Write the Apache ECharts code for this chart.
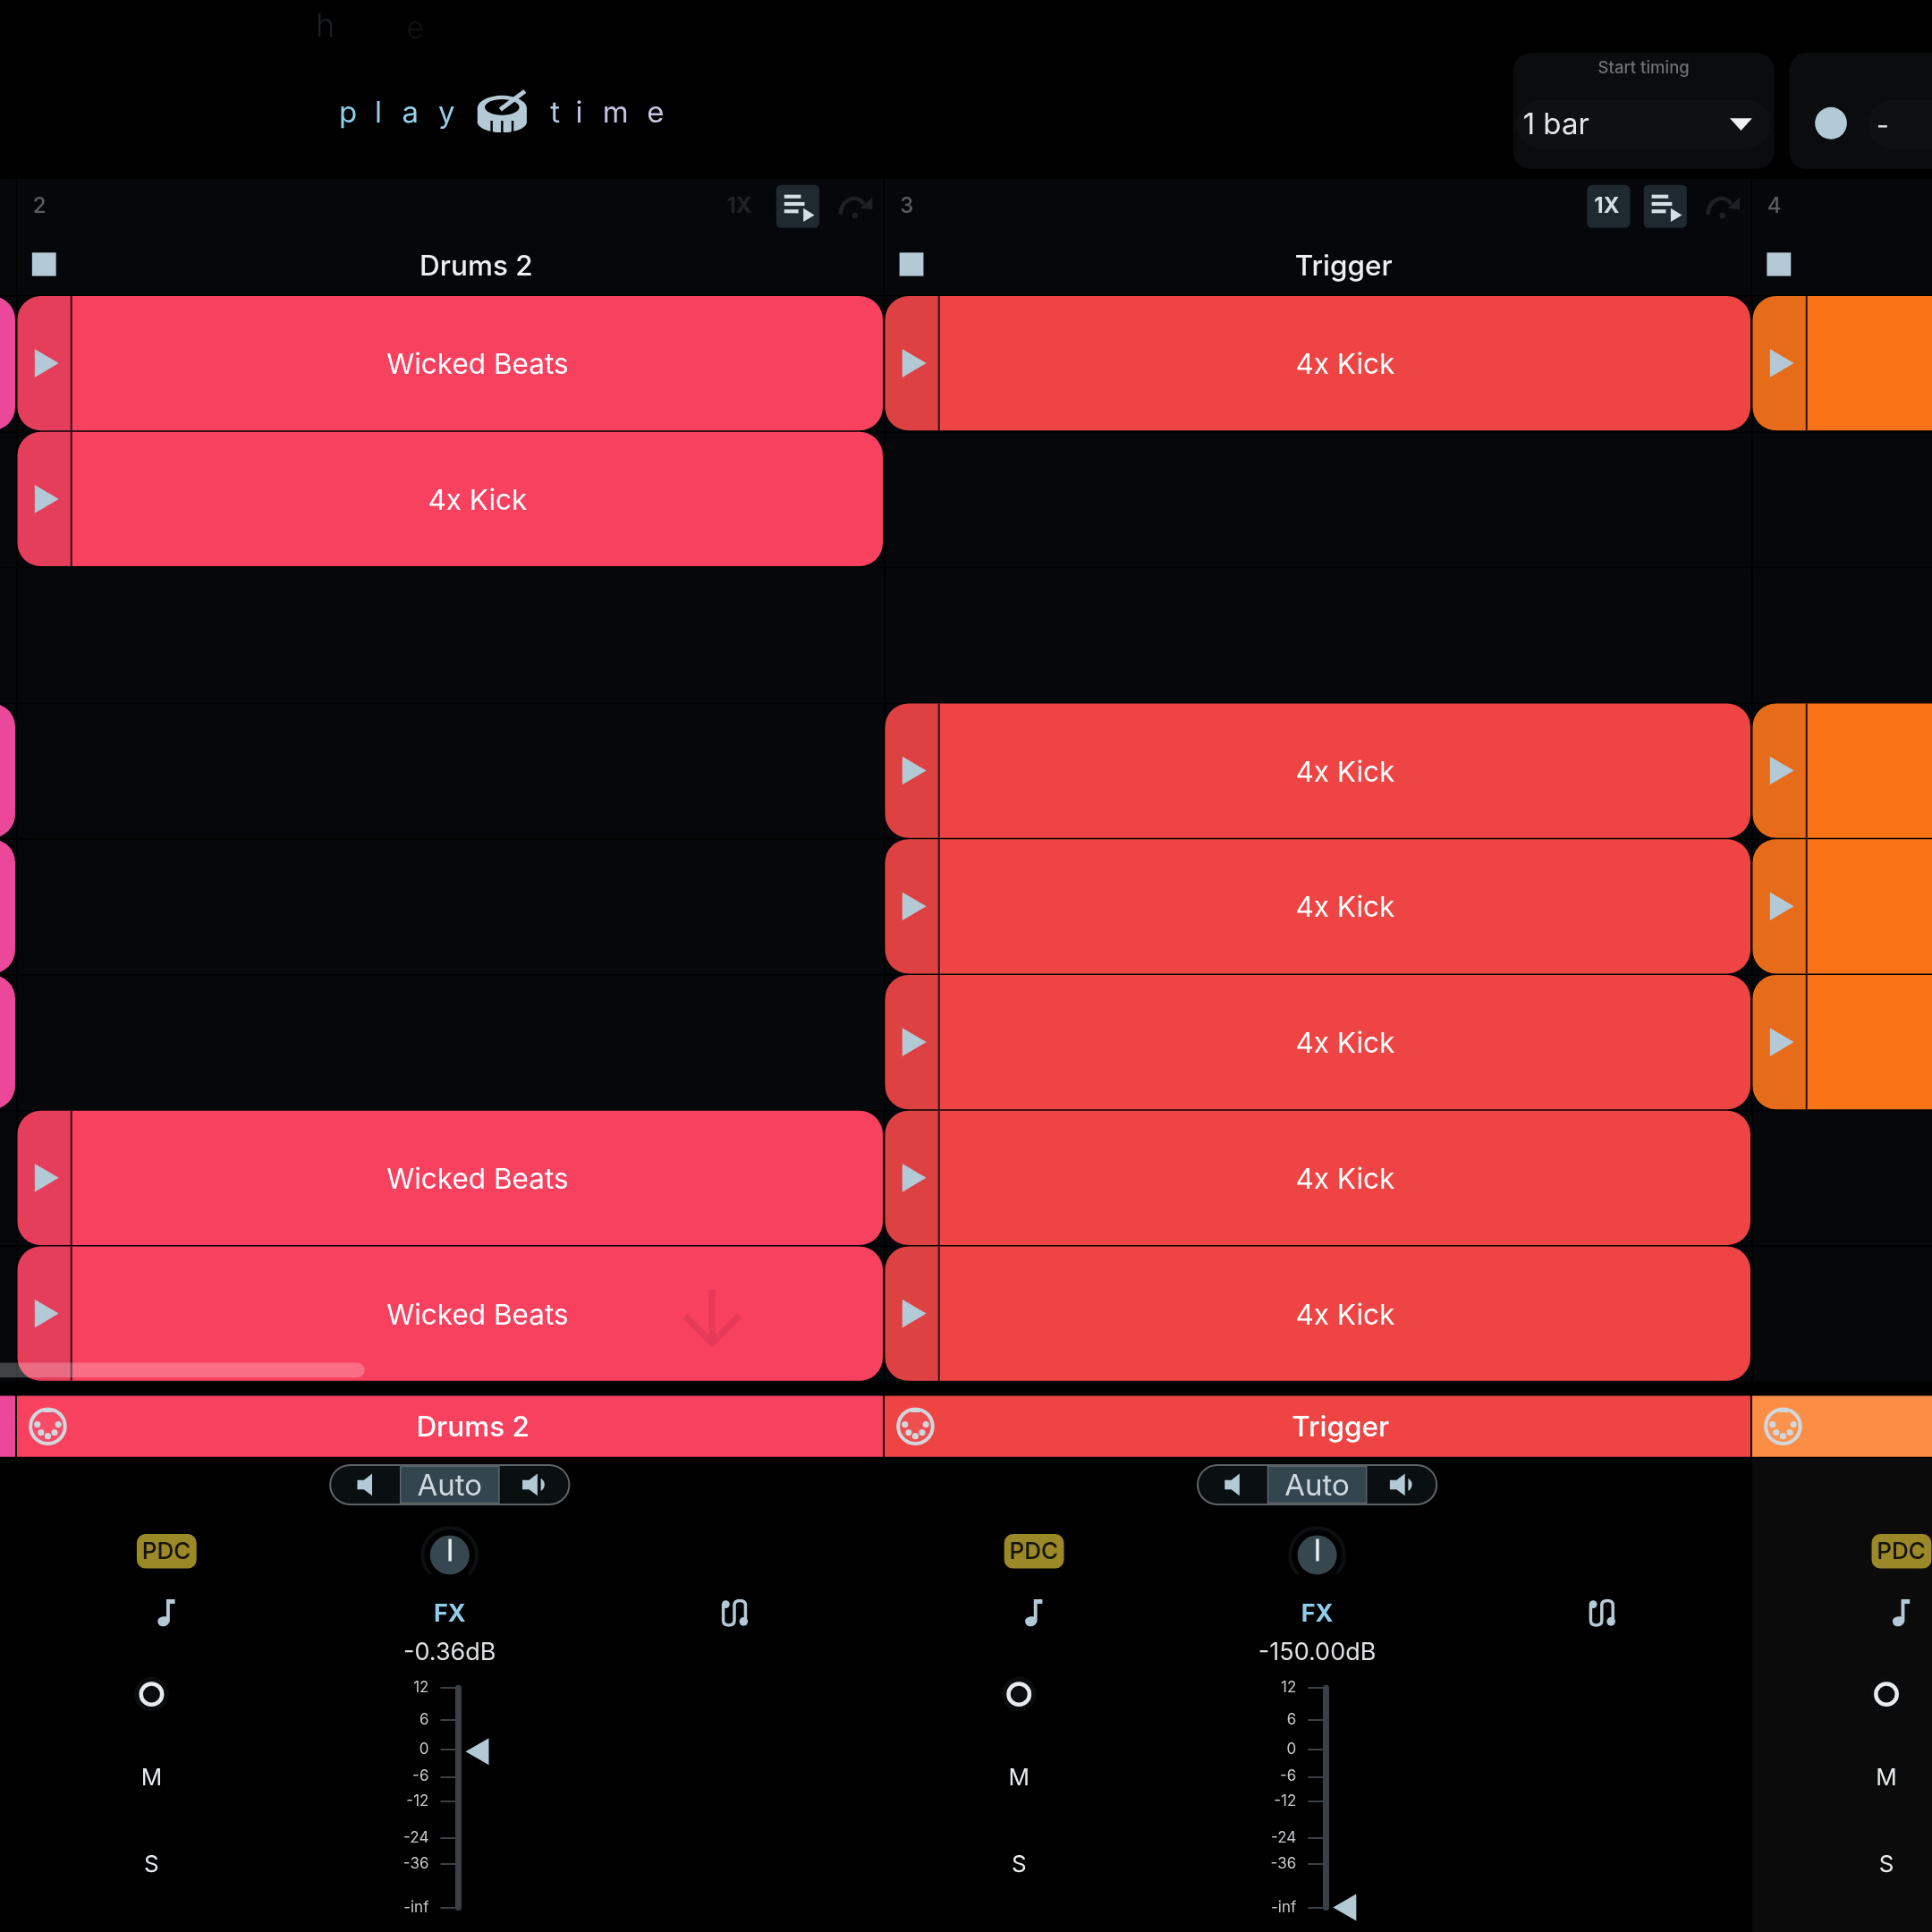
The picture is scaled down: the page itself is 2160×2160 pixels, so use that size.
<!DOCTYPE html>
<html>
<head>
<meta charset="utf-8">
<title>Playtime</title>
<script src="https://cdn.jsdelivr.net/npm/echarts@6/dist/echarts.min.js"></script>
<style>
html, body { margin: 0; padding: 0; background: #000; }
#chart { width: 2160px; height: 2160px; }
</style>
</head>
<body>
<div id="chart"></div>
<script>
// clip matrix, one entry per clip
var clipTracks = [1, 1, 1, 1, 2, 2, 2, 2, 3, 3, 3, 3, 3, 3, 4, 4, 4, 4];
var clipRows = [0, 3, 4, 5, 0, 1, 6, 7, 0, 3, 4, 5, 6, 7, 0, 3, 4, 5];
var clipNames = ['', '', '', '',
    'Wicked Beats', '4x Kick', 'Wicked Beats', 'Wicked Beats',
    '4x Kick', '4x Kick', '4x Kick', '4x Kick', '4x Kick', '4x Kick',
    '', '', '', ''];

// tracks
var trackIds = [1, 2, 3, 4];
var trackNames = ['', 'Drums 2', 'Trigger', ''];
var trackColors = ['#ec4899', '#f8405f', '#ef4444', '#f97316'];
var stripColors = ['#ec4899', '#f8405f', '#ef4444', '#fb8d45'];
var rowIds = [0, 1, 2, 3, 4, 5, 6, 7];

// mixer
var volumeTexts = ['-0.36dB', '-150.00dB'];
var faderTickLabels = ['12', '6', '0', '-6', '-12', '-24', '-36', '-inf'];
var faderTickPos = [1, 0.854, 0.719, 0.596, 0.483, 0.315, 0.197, 0];
var faderValues = [0.71, 0];

var S = 2160 / 1568;
function d(v) { return v * S; }

var ICE = '#b3c9d6';
var FONT = 'Inter';
var back = [];
var icons = [];

function box(list, x0, y0, x1, y1, r, fill, stroke, lw, z) {
    list.push({
        type: 'rect',
        z: z || 0,
        shape: { x: d(x0), y: d(y0), width: d(x1 - x0), height: d(y1 - y0), r: r ? d(r) : 0 },
        style: { fill: fill, stroke: stroke || null, lineWidth: lw || 0 }
    });
}
function label(list, str, x, y, size, color, weight, align) {
    list.push({
        type: 'text',
        z: 5,
        x: d(x),
        y: d(y),
        style: {
            text: str,
            fill: color,
            font: (weight || 400) + ' ' + size + 'px ' + FONT,
            align: align || 'center',
            verticalAlign: 'middle'
        }
    });
}
function icon(path, x0, y0, x1, y1, style) {
    icons.push({
        type: 'path',
        shape: { pathData: path, layout: 'cover', x: d(x0), y: d(y0), width: d(x1 - x0), height: d(y1 - y0) },
        style: style
    });
}
function ring(list, cx, cy, r, fill, stroke, lw) {
    list.push({
        type: 'circle',
        z: 5,
        shape: { cx: d(cx), cy: d(cy), r: d(r) },
        style: { fill: fill, stroke: stroke || null, lineWidth: lw || 0 }
    });
}

// top bar
box(back, 0, 145, 1568, 240, 0, '#05070a');
[13, 717, 1421].forEach(function (x) {
    box(back, x, 145, x + 1, 240, 0, '#000', null, 0, 1);
});
label(back, 'h', 264, 22, 36, '#1c1f22', 300);
label(back, 'e', 337, 24, 34, '#101214', 300);

var logoLetters = ['p', 'l', 'a', 'y', 't', 'i', 'm', 'e'];
var logoX = [282.5, 307, 333, 362.5, 450.5, 470, 499.5, 532];
var logoColors = ['#8fd0ee', '#8fd0ee', '#96d0ec', '#96d0ec', '#b8c8e4', '#c2c4e4', '#c8c2e2', '#cbc2e0'];
logoLetters.forEach(function (ch, i) {
    label(back, ch, logoX[i], 92, 33, logoColors[i], 400);
});
// drum
back.push({
    type: 'ellipse', z: 5,
    shape: { cx: d(407.5), cy: d(88), rx: d(20), ry: d(10.500) },
    style: { fill: ICE }
});
box(back, 387.5, 88, 427.5, 100, 0, ICE, null, 0, 5);
back.push({
    type: 'ellipse', z: 5,
    shape: { cx: d(407.5), cy: d(99), rx: d(20), ry: d(8.5) },
    style: { fill: ICE }
});
back.push({
    type: 'ellipse', z: 6,
    shape: { cx: d(407.5), cy: d(87), rx: d(14), ry: d(6.500) },
    style: { fill: '#000' }
});
back.push({
    type: 'line', z: 7,
    shape: { x1: d(406), y1: d(89), x2: d(426), y2: d(74) },
    style: { stroke: ICE, lineWidth: 5 }
});
[399, 407.5, 416].forEach(function (x) {
    back.push({
        type: 'line', z: 7,
        shape: { x1: d(x), y1: d(98), x2: d(x), y2: d(108) },
        style: { stroke: '#000', lineWidth: 2.5 }
    });
});

// start timing panel
box(back, 1228, 43, 1440, 137, 14, '#0a0c0e');
label(back, 'Start timing', 1334, 55.5, 18.5, '#6c7175', 500);
box(back, 1231, 81, 1437, 121, 20, '#0e1012');
label(back, '1 bar', 1236, 102, 33, '#e4e6e8', 400, 'left');
icon('M0 0L10 0L5 8Z', 1404, 96, 1422, 106, { fill: '#eef0f2' });
box(back, 1452, 43, 1600, 137, 14, '#0a0c0e');
ring(back, 1486, 100, 13, ICE);
box(back, 1516, 81, 1600, 121, 20, '#0e1012');
label(back, '-', 1528, 103, 31, '#d8dadc');

// header + mixer per track, the track step is 704 in view units
var ctrlTracks = [0, 1, 2];
var notePath = 'M5 0L10 0L10 3L7 3L7 14C7 16 5 18 3 18C1 18 0 16 0 14.500C0 12.500 2 11 5 11.500Z';
var routePath = 'M2 3L2 14C2 16 3 17 4.500 17C6 17 7 16 7 14L7 4C7 2 8 1 9.500 1C11 1 12 2 12 4L12 15';
var redoPath = 'M1 14C2 4 12 2 16 8';
var redoHead = 'M20 2L20 11L11 10Z';
var quietPath = 'M0 4L4 4L9 0L9 14L4 10L0 10Z';
var loudPath = 'M0 4L4 4L9 0L9 14L4 10L0 10ZM11 3C14 5 14 9 11 11Z';

// track 4 mixer panel sits behind its controls
box(back, 1422, 1183, 1568, 1568, 0, '#0b0b0b', null, 0, -1);

ctrlTracks.forEach(function (k) {
    var o = k * 704;
    label(back, String(k + 2), 32 + o, 167.5, 24, '#5a5d60', 500);
    box(back, 26 + o, 205, 45.5 + o, 224, 0, ICE);
    if (trackNames[k + 1]) {
        label(back, trackNames[k + 1], 386.5 + o, 216.5, 31.5, '#eceeef', 500);
    }
    if (k < 2) {
        var oneOn = k === 1;
        if (oneOn) { box(back, 1288, 150, 1323, 185, 4, '#1f2a30'); }
        label(back, '1X', 600 + o, 167.5, 24, oneOn ? '#d5e0e6' : '#1f2327', 700);
        box(back, 630 + o, 150, 665 + o, 185, 4, '#1f2a30');
        box(back, 636.5 + o, 158, 650 + o, 161, 0, '#d5e0e6', null, 0, 1);
        box(back, 636.5 + o, 164, 653 + o, 167, 0, '#d5e0e6', null, 0, 1);
        box(back, 636.5 + o, 170, 648 + o, 173, 0, '#d5e0e6', null, 0, 1);
        icon('M0 0L6 6L0 12Z', 652 + o, 169, 661 + o, 180, { fill: '#d5e0e6' });
        icon(redoPath, 682 + o, 161, 701 + o, 174, { fill: 'none', stroke: '#1d2024', lineWidth: 4.500 });
        icon(redoHead, 698 + o, 160, 708 + o, 170, { fill: '#1d2024' });
        ring(back, 694 + o, 175, 2.500, '#1d2024');

        // volume mode switch
        box(back, 268 + o, 1189, 462 + o, 1221, 16, '#0a1012', '#5e6467', 2);
        box(back, 325 + o, 1190, 405 + o, 1220, 0, '#33464f', '#5e6467', 1.500, 1);
        label(back, 'Auto', 365 + o, 1206.5, 33, '#cfd8dd');
        icon(quietPath, 290 + o, 1196, 302 + o, 1214, { fill: ICE });
        icon(loudPath, 424 + o, 1196, 442 + o, 1214, { fill: ICE });

        // pan knob
        back.push({
            type: 'arc', z: 5,
            shape: { cx: d(365 + o), cy: d(1262), r: d(22), startAngle: Math.PI * 0.75, endAngle: Math.PI * 0.25 },
            style: { fill: null, stroke: '#0d0f11', lineWidth: 4 }
        });
        ring(back, 365 + o, 1262, 16, '#37474f');
        box(back, 364 + o, 1249, 366.5 + o, 1267, 0, '#e8edf0', null, 0, 6);

        label(back, 'FX', 365 + o, 1310, 27, '#8fcdea', 700);
        icon(routePath, 587 + o, 1299, 605 + o, 1319, { fill: 'none', stroke: ICE, lineWidth: 3.500 });
        ring(back, 589 + o, 1302, 3.200, ICE);
        ring(back, 603.5 + o, 1316, 3.500, ICE);
        label(back, volumeTexts[k], 365 + o, 1341.5, 27, '#dfe1e3', 400);
    }
    // PDC
    box(back, 111 + o, 1245, 159.5 + o, 1273, 7, '#9b8826');
    label(back, 'PDC', 135 + o, 1259.5, 26, '#15140c', 500);
    icon(notePath, 128 + o, 1298, 142 + o, 1320, { fill: ICE });
    ring(back, 123 + o, 1375, 14, '#0a0c0d');
    ring(back, 123 + o, 1375, 8.500, 'none', '#e8ecee', 4.500);
    label(back, 'M', 123 + o, 1443, 26, '#e8ecee');
    label(back, 'S', 123 + o, 1514, 26, '#e8ecee');
});

// midi plug on the track strip
function midiIcon(cx, cy) {
    var kids = [{
        type: 'circle',
        shape: { cx: cx, cy: cy, r: d(14) },
        style: { fill: 'rgba(255,255,255,0.06)', stroke: '#cfd8dd', lineWidth: 4 }
    }, {
        type: 'rect',
        shape: { x: cx - 5, y: cy - d(15), width: 10, height: 5 },
        style: { fill: '#cfd8dd' }
    }];
    [[-8.500, -1.500], [8.500, -1.500], [-5.500, 5], [5.500, 5], [0, 8]].forEach(function (p) {
        kids.push({
            type: 'circle',
            shape: { cx: cx + d(p[0]), cy: cy + d(p[1]), r: 3.600 },
            style: { fill: '#cfd8dd' }
        });
    });
    return kids;
}

function renderCell(params, api) {
    var p = api.coord([api.value(0), api.value(1)]);
    var s = api.size([1, 1]);
    return {
        type: 'rect',
        shape: { x: p[0], y: p[1], width: s[0], height: s[1] },
        style: { fill: '#05070a', stroke: '#000', lineWidth: 1.500 }
    };
}

function renderClip(params, api) {
    var p = api.coord([api.value(0), api.value(1)]);
    var s = api.size([1, 1]);
    var x = p[0] + 0.5;
    var y = p[1];
    var w = s[0] - 2.5;
    var h = s[1] - 1.5;
    var hw = d(43);
    var color = trackColors[clipTracks[params.dataIndex] - 1];
    var r = d(19);
    return {
        type: 'group',
        children: [{
            type: 'rect',
            shape: { x: x, y: y, width: w, height: h, r: r },
            style: { fill: color }
        }, {
            type: 'rect',
            shape: { x: x, y: y, width: hw, height: h, r: [r, 0, 0, r] },
            style: { fill: 'rgba(40,40,60,0.09)' }
        }, {
            type: 'rect',
            shape: { x: x + hw, y: y, width: 2, height: h },
            style: { fill: '#2a1318' }
        }, {
            type: 'polygon',
            shape: { points: [[x + d(14), y + d(43)], [x + d(33.500), y + d(54.500)], [x + d(14), y + d(66)]] },
            style: { fill: ICE }
        }, {
            type: 'text',
            style: {
                text: clipNames[params.dataIndex],
                x: x + hw + (w - hw) / 2 + 1,
                y: y + h / 2 + 2.5,
                fill: '#fff',
                font: '400 31.5px ' + FONT,
                align: 'center',
                verticalAlign: 'middle'
            }
        }]
    };
}

function renderStrip(params, api) {
    var k = api.value(0);
    var top = api.coord([k, 8.1]);
    var bottom = api.coord([k + 1, 8.55]);
    var kids = [{
        type: 'rect',
        shape: { x: top[0], y: top[1], width: bottom[0] - top[0] - 2, height: bottom[1] - top[1] },
        style: { fill: stripColors[k - 1] }
    }].concat(midiIcon(top[0] + d(25), (top[1] + bottom[1]) / 2));
    kids.push({
        type: 'text',
        style: {
            text: trackNames[k - 1],
            x: top[0] + d(370),
            y: (top[1] + bottom[1]) / 2 + 2,
            fill: '#fff',
            font: '500 31.5px ' + FONT,
            align: 'center',
            verticalAlign: 'middle'
        }
    });
    return { type: 'group', children: kids };
}

var cellData = [];
trackIds.forEach(function (t) {
    rowIds.forEach(function (r) { cellData.push([t, r]); });
});

function faderGrid(left) {
    return {
        left: d(left),
        top: d(1370),
        width: d(40),
        height: d(178),
        outerBoundsMode: 'none'
    };
}
function faderY(i) {
    return {
        type: 'value',
        gridIndex: i,
        min: 0,
        max: 1,
        splitLine: { show: false },
        axisLine: { show: true, onZero: false, lineStyle: { color: '#3b4046', width: 7 } },
        axisTick: { show: true, length: 20, customValues: faderTickPos, lineStyle: { color: '#3b4046', width: 2 } },
        axisLabel: {
            show: true,
            margin: 33,
            color: '#c9cbcd',
            fontFamily: FONT,
            fontSize: 17,
            padding: [3, 0, 0, 0],
            customValues: faderTickPos,
            formatter: function (v) { return faderTickLabels[faderTickPos.indexOf(v)]; }
        }
    };
}
function faderMark(i) {
    return {
        type: 'scatter',
        xAxisIndex: i,
        yAxisIndex: i,
        clip: false,
        symbol: 'triangle',
        symbolRotate: 90,
        symbolSize: [30, 26],
        itemStyle: { color: ICE, opacity: 1 },
        data: [[21, faderValues[i - 1]]],
        z: 5
    };
}

var option = {
    backgroundColor: '#000',
    animation: false,
    graphic: { elements: back },
    grid: [
        { left: 19, top: d(240.3), width: 2910, height: d(881.5), outerBoundsMode: 'none' },
        faderGrid(372),
        faderGrid(1076)
    ],
    xAxis: [
        { type: 'value', gridIndex: 0, min: 2, max: 5, show: false },
        { type: 'value', gridIndex: 1, min: 0, max: 55, show: false },
        { type: 'value', gridIndex: 2, min: 0, max: 55, show: false }
    ],
    yAxis: [
        { type: 'value', gridIndex: 0, min: 0, max: 8, inverse: true, show: false },
        faderY(1),
        faderY(2)
    ],
    series: [
        {
            name: 'cells',
            type: 'custom',
            xAxisIndex: 0,
            yAxisIndex: 0,
            coordinateSystem: 'cartesian2d',
            renderItem: renderCell,
            data: cellData,
            z: 1,
            silent: true
        },
        {
            name: 'clips',
            type: 'custom',
            xAxisIndex: 0,
            yAxisIndex: 0,
            coordinateSystem: 'cartesian2d',
            renderItem: renderClip,
            data: clipTracks.map(function (t, i) { return [t, clipRows[i]]; }),
            z: 2,
            silent: true
        },
        {
            name: 'strips',
            type: 'custom',
            xAxisIndex: 0,
            yAxisIndex: 0,
            coordinateSystem: 'cartesian2d',
            renderItem: renderStrip,
            data: trackIds.map(function (t) { return [t, 8]; }),
            z: 2,
            silent: true
        },
        faderMark(1),
        faderMark(2),
        {
            name: 'icons',
            type: 'custom',
            coordinateSystem: 'none',
            renderItem: function () { return { type: 'group', children: icons }; },
            data: [0],
            z: 3,
            silent: true
        },
        {
            // scrollbar and drop arrow float above the clips
            name: 'overlay',
            type: 'custom',
            coordinateSystem: 'none',
            renderItem: function () {
                return {
                    type: 'group',
                    children: [{
                        type: 'rect',
                        shape: { x: -20, y: d(1106), width: d(296) + 20, height: d(12), r: d(6) },
                        style: { fill: 'rgba(255,255,255,0.24)' }
                    }, {
                        type: 'path',
                        shape: { pathData: 'M22 0L22 44M0 22L22 44L44 22', layout: 'cover', x: d(556), y: d(1046), width: d(44), height: d(44) },
                        style: { fill: 'none', stroke: 'rgba(120,30,50,0.14)', lineWidth: 7 }
                    }]
                };
            },
            data: [0],
            z: 4,
            silent: true
        }
    ]
};

var myChart = echarts.init(document.getElementById('chart'));
myChart.setOption(option);
</script>
</body>
</html>
